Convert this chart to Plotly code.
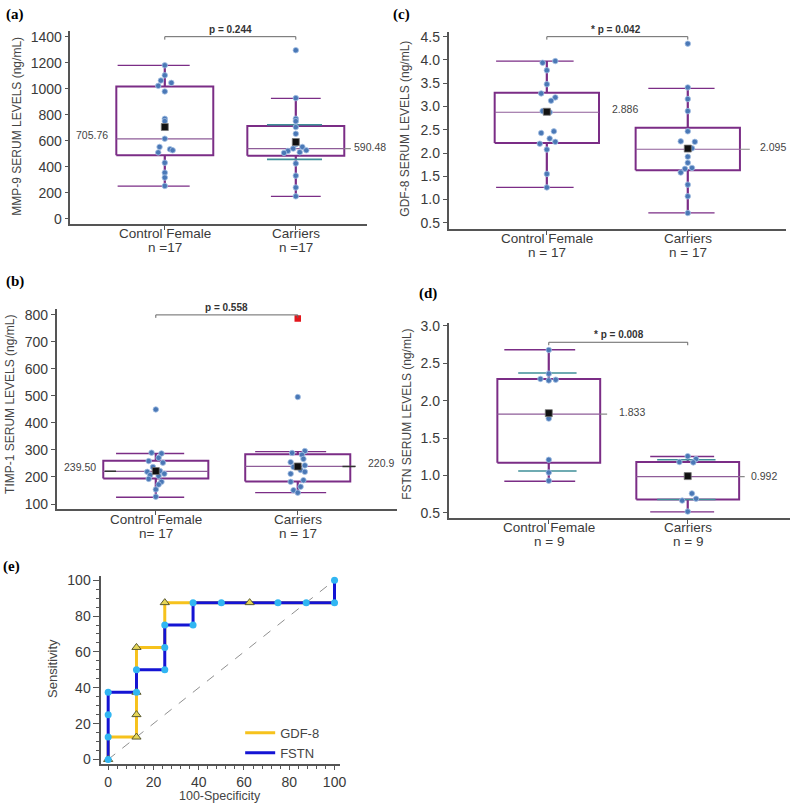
import plotly.graph_objects as go

W, H = 796, 807


def PX(x):
    return x / W


def PY(y):
    return 1 - y / H


# ------------------------------------------------------------------ data
categories = ["Control Female", "Carriers"]

# (a) MMP-9 (ng/mL)
mmp9_n = ["n =17", "n =17"]
mmp9_control = [1180, 1103, 1063, 1045, 1022, 979, 769, 751, 616, 553, 535, 527, 510, 431, 355, 317, 253]
mmp9_carriers = [1296, 928, 769, 751, 705, 654, 573, 553, 540, 527, 522, 512, 507, 426, 332, 241, 173]
mmp9_q1 = [489, 485]
mmp9_median = [614, 540]
mmp9_q3 = [1017, 713]
mmp9_low = [251, 173]
mmp9_high = [1180, 926]
mmp9_mean = [705.76, 590.48]
mmp9_mean_text = ["705.76", "590.48"]
mmp9_ci = [[], [723, 457]]
mmp9_p_text = "p = 0.244"
mmp9_p_level = 1400
mmp9_ticks = [0, 200, 400, 600, 800, 1000, 1200, 1400]

# (b) TIMP-1 (ng/mL)
timp1_n = ["n= 17", "n = 17"]
timp1_control = [450, 290, 287, 271, 259, 253, 237, 222, 219, 212, 207, 204, 193, 182, 172, 154, 127]
timp1_carriers = [496, 296, 289, 282, 267, 255, 243, 237, 226, 219, 212, 188, 182, 164, 151, 142]
timp1_carriers_far_out = [787]
timp1_q1 = [194, 183]
timp1_median = [221, 239]
timp1_q3 = [260, 284]
timp1_low = [125, 142]
timp1_high = [287, 294]
timp1_mean = [222, 239]
timp1_mean_text = ["239.50", "220.9"]
timp1_ci = [[], []]
timp1_p_text = "p = 0.558"
timp1_p_level = 800
timp1_ticks = [100, 200, 300, 400, 500, 600, 700, 800]

# (c) GDF-8 (ng/mL)
gdf8_n = ["n = 17", "n = 17"]
gdf8_control = [3.975, 3.94, 3.777, 3.479, 3.28, 3.195, 3.124, 2.90, 2.876, 2.465, 2.43, 2.31, 2.24, 2.20, 2.074, 1.55, 1.26]
gdf8_carriers = [4.35, 3.41, 3.16, 2.90, 2.465, 2.25, 2.24, 2.10, 2.10, 1.92, 1.79, 1.68, 1.66, 1.58, 1.32, 1.07, 0.71]
gdf8_q1 = [2.217, 1.628]
gdf8_median = [2.876, 2.081]
gdf8_q3 = [3.294, 2.543]
gdf8_low = [1.26, 0.713]
gdf8_high = [3.975, 3.387]
gdf8_mean = [2.886, 2.095]
gdf8_mean_text = ["2.886", "2.095"]
gdf8_ci = [[], []]
gdf8_p_text = "* p = 0.042"
gdf8_p_level = 4.5
gdf8_ticks = [0.5, 1.0, 1.5, 2.0, 2.5, 3.0, 3.5, 4.0, 4.5]

# (d) FSTN (ng/mL)
fstn_n = ["n = 9", "n = 9"]
fstn_control = [2.678, 2.36, 2.29, 2.28, 2.27, 1.76, 1.21, 1.04, 0.93]
fstn_carriers = [1.258, 1.22, 1.18, 1.175, 0.99, 0.76, 0.69, 0.665, 0.518]
fstn_q1 = [1.171, 0.681]
fstn_median = [1.819, 0.985]
fstn_q3 = [2.29, 1.18]
fstn_low = [0.923, 0.513]
fstn_high = [2.68, 1.254]
fstn_mean = [1.833, 0.992]
fstn_mean_text = ["1.833", "0.992"]
fstn_ci = [[2.37, 1.06], [1.21, 0.68]]
fstn_p_text = "* p = 0.008"
fstn_p_level = 2.78
fstn_ticks = [0.5, 1.0, 1.5, 2.0, 2.5, 3.0]

# (e) ROC curves
roc_gdf8_x = [0, 0, 12.5, 12.5, 12.5, 12.5, 25, 25, 37.5, 50, 62.5, 75, 87.5, 100, 100]
roc_gdf8_y = [0, 12.5, 12.5, 25, 37.5, 62.5, 62.5, 87.5, 87.5, 87.5, 87.5, 87.5, 87.5, 87.5, 100]
roc_gdf8_mark_x = [0, 12.5, 12.5, 12.5, 12.5, 25, 62.5]
roc_gdf8_mark_y = [0, 12.5, 25, 37.5, 62.5, 87.5, 87.5]
roc_fstn_x = [0, 0, 0, 0, 12.5, 12.5, 25, 25, 25, 37.5, 37.5, 50, 75, 87.5, 100, 100]
roc_fstn_y = [0, 12.5, 25, 37.5, 37.5, 50, 50, 62.5, 75, 75, 87.5, 87.5, 87.5, 87.5, 87.5, 100]
roc_ref_x = [0, 100]
roc_ref_y = [0, 100]
roc_names = ["GDF-8", "FSTN"]
roc_ticks = [0, 20, 40, 60, 80, 100]

# ------------------------------------------------------------------ style
PURPLE = "#7b2d86"
MEDIAN_C = "#8e5c98"
GRAY_LINE = "#8a8a8a"
TEAL = "#3f8f98"
DOT = "#4a78b6"
DOT_EDGE = "#a7c2e4"
AXIS_C = "#555555"
TEXT_C = "#3a3a3a"
FONT = "Arial, Liberation Sans, sans-serif"
SERIF = "Liberation Serif, Times New Roman, serif"
HW = 0.37  # box half width in category units

# jitter (horizontal offsets of the dots, in category units)
jit = {
    "a": ([0, 0, -0.03, 0.05, -0.05, 0, 0, 0, 0, -0.04, 0.04, 0.06, -0.05, 0, 0, 0, 0],
          [0, 0, 0, 0, 0, 0, 0, 0.05, -0.02, 0.08, -0.06, 0.03, -0.09, 0, 0, 0, 0]),
    "b": ([0, -0.03, 0.04, 0.02, -0.05, 0.05, -0.02, 0.03, -0.06, 0.06, -0.04, 0.02, -0.05, 0.04, 0.02, 0, 0],
          [0, 0.05, -0.04, 0.03, 0.04, -0.05, 0.05, -0.03, 0.02, 0.05, -0.05, 0.04, -0.05, 0.02, -0.03, 0.0]),
    "c": ([0.06, -0.03, 0, 0, -0.04, 0.06, 0.03, -0.03, 0.02, 0.05, -0.04, 0.02, 0.06, -0.05, 0, 0, 0],
          [0, 0, 0, 0, 0, -0.05, 0.05, 0, 0.03, 0, 0, 0.03, -0.02, -0.05, 0, 0, 0]),
    "d": ([0, 0, -0.06, 0.05, 0.0, 0, 0, 0, 0],
          [0.0, 0.06, -0.06, 0.04, 0, 0.03, 0.06, -0.04, 0]),
}

panels = {
    "a": dict(k=1, xd=(71, 370), yd=(26, 221), xr=(-0.72, 1.545), yr=(-38, 1445.6), fmt="",
              title="MMP-9 SERUM LEVELS (ng/mL)", title_xy=(17, 122), letter="(a)", letter_xy=(15, 10),
              cat_y=(231, 244.5), mean_xy=[(93, 131), (373, 143)], p_xy=(232, 25),
              cap_l=[-0.36, -0.19], cap_r=0.19, ext=[0, 0.05], mark=None),
    "b": dict(k=2, xd=(57, 400), yd=(307, 509), xr=(-0.699, 1.699), yr=(81.7, 822), fmt="",
              title="TIMP-1 SERUM LEVELS (ng/mL)", title_xy=(10, 403), letter="(b)", letter_xy=(15, 279),
              cat_y=(520, 533.5), mean_xy=[(81, 467), (384, 463)], p_xy=(228, 306),
              cap_l=[-0.28, -0.3], cap_r=0.2, ext=[0, 0.04], mark=[(-0.36, -0.28), (0.315, 0.405)]),
    "c": dict(k=3, xd=(452, 792), yd=(27, 226), xr=(-0.697, 1.697), yr=(0.372, 4.606), fmt=".1f",
              title="GDF-8 SERUM LEVELS (ng/mL)", title_xy=(408, 125), letter="(c)", letter_xy=(405, 10),
              cat_y=(236, 249.5), mean_xy=[(630, 105), (779, 143)], p_xy=(621, 25),
              cap_l=[-0.36, -0.28], cap_r=0.19, ext=[0, 0.07], mark=None),
    "d": dict(k=4, xd=(452, 796), yd=(321, 518), xr=(-0.721, 1.736), yr=(0.434, 3.04), fmt=".1f",
              title="FSTN SERUM LEVELS (ng/mL)", title_xy=(410, 413), letter="(d)", letter_xy=(431, 291),
              cat_y=(528, 542), mean_xy=[(637, 411), (770, 476)], p_xy=(624, 333),
              cap_l=[-0.32, -0.27], cap_r=0.19, ext=[0.05, 0.04], mark=None),
}

panel_data = {
    "a": (mmp9_control, mmp9_carriers, mmp9_q1, mmp9_median, mmp9_q3, mmp9_low, mmp9_high,
          mmp9_mean, mmp9_mean_text, mmp9_ci, mmp9_p_text, mmp9_p_level, mmp9_ticks, mmp9_n),
    "b": (timp1_control, timp1_carriers, timp1_q1, timp1_median, timp1_q3, timp1_low, timp1_high,
          timp1_mean, timp1_mean_text, timp1_ci, timp1_p_text, timp1_p_level, timp1_ticks, timp1_n),
    "c": (gdf8_control, gdf8_carriers, gdf8_q1, gdf8_median, gdf8_q3, gdf8_low, gdf8_high,
          gdf8_mean, gdf8_mean_text, gdf8_ci, gdf8_p_text, gdf8_p_level, gdf8_ticks, gdf8_n),
    "d": (fstn_control, fstn_carriers, fstn_q1, fstn_median, fstn_q3, fstn_low, fstn_high,
          fstn_mean, fstn_mean_text, fstn_ci, fstn_p_text, fstn_p_level, fstn_ticks, fstn_n),
}

fig = go.Figure()
annotations = []
layout_axes = {}


def ann(x, y, text, size, color="#444", family=FONT, angle=0, xref="paper"):
    annotations.append(dict(x=x, y=y, xref=xref, yref="paper", text=text, textangle=angle,
                            showarrow=False, xanchor="center", yanchor="middle", borderpad=0,
                            font=dict(family=family, size=size, color=color)))


def line_tr(x, y, xa, ya, color, width, dash=None):
    return go.Scatter(x=x, y=y, mode="lines", xaxis=xa, yaxis=ya,
                      line=dict(color=color, width=width, dash=dash),
                      hoverinfo="skip", showlegend=False)


for key, cfg in panels.items():
    (g0, g1, q1, med, q3, lo, hi, mean, mean_text, ci, p_text, p_level, yticks, n_lab) = panel_data[key]
    k = cfg["k"]
    xa, ya = f"x{k}", f"y{k}"
    groups = [g0, g1]
    ppu = (cfg["yd"][1] - cfg["yd"][0]) / (cfg["yr"][1] - cfg["yr"][0])  # px per unit
    for i in range(2):
        fig.add_trace(line_tr([i - HW, i + HW, i + HW, i - HW, i - HW],
                              [q1[i], q1[i], q3[i], q3[i], q1[i]], xa, ya, PURPLE, 2))
        fig.add_trace(line_tr([i, i, None, i, i], [q3[i], hi[i], None, q1[i], lo[i]], xa, ya, PURPLE, 2.2))
        cl, cr = cfg["cap_l"][i], cfg["cap_r"]
        fig.add_trace(line_tr([i + cl, i + cr, None, i + cl, i + cr],
                              [hi[i], hi[i], None, lo[i], lo[i]], xa, ya, PURPLE, 1.3))
        fig.add_trace(line_tr([i - HW, i + HW], [med[i], med[i]], xa, ya, MEDIAN_C, 1.2))
        if cfg["ext"][i] > 0:
            fig.add_trace(line_tr([i + HW, i + HW + cfg["ext"][i]], [med[i], med[i]], xa, ya, GRAY_LINE, 1.2))
        if cfg["mark"]:
            m0, m1 = cfg["mark"][i]
            fig.add_trace(line_tr([i + m0, i + m1], [med[i], med[i]], xa, ya, "#333333", 1.4))
        for c in ci[i]:
            fig.add_trace(line_tr([i - 0.22, i + 0.2], [c, c], xa, ya, TEAL, 1.6))
        jx = jit[key][i]
        fig.add_trace(go.Scatter(x=[i + j for j in jx], y=groups[i], mode="markers", xaxis=xa, yaxis=ya,
                                 marker=dict(color=DOT, size=5.5, line=dict(color=DOT_EDGE, width=0.8)),
                                 hoverinfo="skip", showlegend=False))
        fig.add_trace(go.Scatter(x=[i], y=[mean[i]], mode="markers", xaxis=xa, yaxis=ya,
                                 marker=dict(color="#111111", size=7, symbol="square",
                                             line=dict(color="#777777", width=0.8)),
                                 hoverinfo="skip", showlegend=False))
        mx, my = cfg["mean_xy"][i]
        ann(PX(mx), PY(my), mean_text[i], 10.5)
        ann(i, PY(cfg["cat_y"][0]), categories[i], 13.5, TEXT_C, xref=xa)
        ann(i, PY(cfg["cat_y"][1]), n_lab[i], 13.5, TEXT_C, xref=xa)
    if key == "b":
        fig.add_trace(go.Scatter(x=[1] * len(timp1_carriers_far_out), y=timp1_carriers_far_out,
                                 mode="markers", xaxis=xa, yaxis=ya,
                                 marker=dict(color="#e3161c", size=6.5, symbol="square"),
                                 hoverinfo="skip", showlegend=False))
    d = 3 / ppu
    fig.add_trace(line_tr([0, 0, 1, 1], [p_level - d, p_level, p_level, p_level - d], xa, ya, "#666", 1))
    ann(PX(cfg["p_xy"][0]), PY(cfg["p_xy"][1]), f"<b>{p_text}</b>", 10, "#333")
    ann(PX(cfg["title_xy"][0]), PY(cfg["title_xy"][1]), cfg["title"], 12, "#444", angle=-90)
    ann(PX(cfg["letter_xy"][0]), PY(cfg["letter_xy"][1]), f"<b>{cfg['letter']}</b>", 15, "#000", SERIF)
    suffix = "" if k == 1 else str(k)
    layout_axes[f"xaxis{suffix}"] = dict(
        domain=[PX(cfg["xd"][0]), PX(cfg["xd"][1])], range=list(cfg["xr"]), anchor=ya,
        showline=True, linecolor=AXIS_C, linewidth=1.5, ticks="outside", ticklen=4, tickcolor=AXIS_C,
        tickvals=[0, 1], showticklabels=False, showgrid=False, zeroline=False, fixedrange=True)
    layout_axes[f"yaxis{suffix}"] = dict(
        domain=[PY(cfg["yd"][1]), PY(cfg["yd"][0])], range=list(cfg["yr"]), anchor=xa,
        showline=True, linecolor=AXIS_C, linewidth=1.5, ticks="outside", ticklen=4, tickcolor=AXIS_C,
        tickvals=yticks, tickformat=cfg["fmt"], showgrid=False, zeroline=False,
        tickfont=dict(family=FONT, size=14, color=TEXT_C), fixedrange=True)

# ------------------------------------------------------------------ (e) ROC
xa, ya = "x5", "y5"
fig.add_trace(line_tr(roc_ref_x, roc_ref_y, xa, ya, "#8f8f8f", 1, "dash"))
fig.add_trace(go.Scatter(x=roc_gdf8_x, y=roc_gdf8_y, mode="lines", name=roc_names[0], xaxis=xa, yaxis=ya,
                         line=dict(color="#f6c21c", width=3), hoverinfo="skip"))
fig.add_trace(go.Scatter(x=roc_fstn_x, y=roc_fstn_y, mode="lines", name=roc_names[1], xaxis=xa, yaxis=ya,
                         line=dict(color="#1414d4", width=3), hoverinfo="skip"))
fig.add_trace(go.Scatter(x=roc_gdf8_mark_x, y=roc_gdf8_mark_y, mode="markers", xaxis=xa, yaxis=ya,
                         marker=dict(symbol="triangle-up", size=8, color="#e6d657",
                                     line=dict(color="#5a5a30", width=1)),
                         hoverinfo="skip", showlegend=False))
fig.add_trace(go.Scatter(x=roc_fstn_x, y=roc_fstn_y, mode="markers", xaxis=xa, yaxis=ya,
                         marker=dict(symbol="circle", size=7, color="#31b6f2"),
                         hoverinfo="skip", showlegend=False))

layout_axes["xaxis5"] = dict(
    domain=[PX(102), PX(343)], range=[-3.07, 102.6], anchor=ya, showline=True, linecolor=AXIS_C,
    linewidth=1.5, ticks="outside", ticklen=4, tickcolor=AXIS_C, tickvals=roc_ticks, showgrid=False,
    zeroline=False, tickfont=dict(family=FONT, size=14, color=TEXT_C),
    minor=dict(dtick=4, tick0=0, ticks="outside", ticklen=3, tickcolor=AXIS_C, showgrid=False),
    fixedrange=True)
layout_axes["yaxis5"] = dict(
    domain=[PY(767), PY(577)], range=[-2.76, 102.2], anchor=xa, showline=True, linecolor=AXIS_C,
    linewidth=1.5, ticks="outside", ticklen=6, tickcolor=AXIS_C, tickvals=roc_ticks, showgrid=False,
    zeroline=False, tickfont=dict(family=FONT, size=14, color=TEXT_C),
    minor=dict(dtick=5, tick0=0, ticks="outside", ticklen=3, tickcolor=AXIS_C, showgrid=False),
    fixedrange=True)

ann(PX(53), PY(670), "Sensitivity", 13, "#444", angle=-90)
ann(PX(222), PY(798.5), "100-Specificity", 12.5, "#444")
ann(PX(12), PY(567), "<b>(e)</b>", 15, "#000", SERIF)

fig.update_layout(
    width=W, height=H, margin=dict(l=0, r=0, t=0, b=0),
    paper_bgcolor="white", plot_bgcolor="white",
    annotations=annotations,
    showlegend=True,
    legend=dict(x=PX(242), y=PY(720), xanchor="left", yanchor="top", bgcolor="rgba(0,0,0,0)",
                font=dict(family=FONT, size=13, color="#444"), itemwidth=30, tracegroupgap=0),
    **layout_axes,
)

fig.write_html("out.html", config={"displayModeBar": False},
               post_script="document.body.style.margin='0';")
